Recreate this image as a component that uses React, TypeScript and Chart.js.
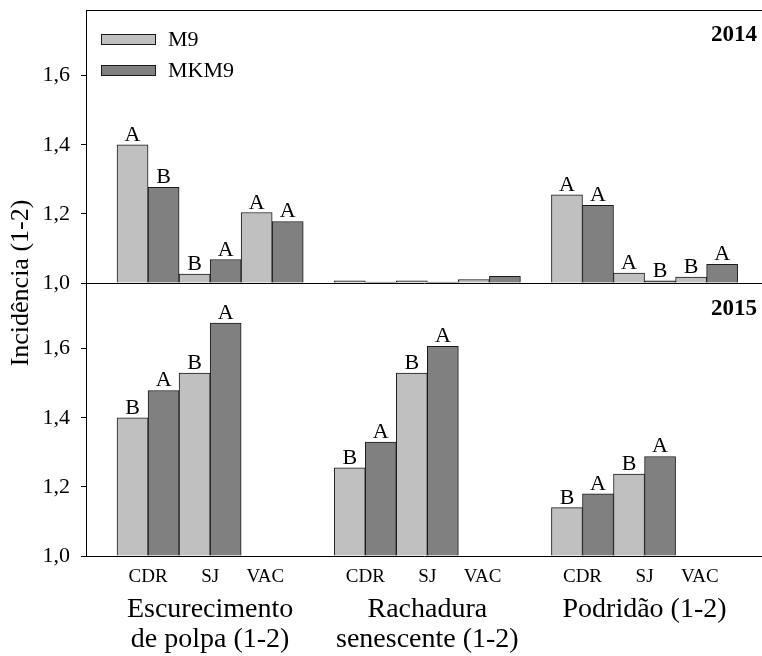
import React, { useEffect, useRef } from 'react';
import { Chart, registerables } from 'chart.js';

Chart.register(...registerables);

const FONT = '"Liberation Serif", "Times New Roman", serif';

const groups: string[][] = [
  ['Escurecimento', 'de polpa (1-2)'],
  ['Rachadura', 'senescente (1-2)'],
  ['Podridão (1-2)'],
];
const cultivars = ['CDR', 'SJ', 'VAC'];
const seriesNames = ['M9', 'MKM9'];
const seriesColors = ['#c0c0c0', '#808080'];
const years = ['2014', '2015'];
const yTicks = [1.0, 1.2, 1.4, 1.6];
const yTitle = 'Incidência (1-2)';

// order: group (Escurecimento, Rachadura, Podridão) x cultivar (CDR, SJ, VAC)
const m9_2014 = [1.40, 1.026, 1.204, 1.006, 1.006, 1.010, 1.255, 1.029, 1.017];
const mkm9_2014 = [1.277, 1.068, 1.178, 1.003, 1.003, 1.019, 1.225, 1.006, 1.054];
const m9_2015 = [1.40, 1.529, null, 1.255, 1.529, null, 1.14, 1.237, null];
const mkm9_2015 = [1.479, 1.674, null, 1.33, 1.607, null, 1.18, 1.288, null];

const letters_m9_2014 = ['A', 'B', 'A', '', '', '', 'A', 'A', 'B'];
const letters_mkm9_2014 = ['B', 'A', 'A', '', '', '', 'A', 'B', 'A'];
const letters_m9_2015 = ['B', 'B', '', 'B', 'B', '', 'B', 'B', ''];
const letters_mkm9_2015 = ['A', 'A', '', 'A', 'A', '', 'A', 'A', ''];

// slot layout on the x axis: one empty slot between groups
const slotOf = (i: number, s: number) => 1 + 7 * Math.floor(i / 3) + 2 * (i % 3) + s;
const labelShift = [0, 0, -0.22];
const X_MIN = -0.5;
const X_MAX = 21.285;

const fmt = (v: number) => v.toFixed(1).replace('.', ',');

export default function App() {
  const ref = useRef<HTMLCanvasElement | null>(null);

  useEffect(() => {
    if (!ref.current) return;

    const mk = (vals: (number | null)[], s: number, yAxisID: string, letters: string[]) => ({
      label: seriesNames[s],
      data: vals.map((v, i) => ({ x: slotOf(i, s), y: v })),
      backgroundColor: seriesColors[s],
      borderColor: '#1a1a1a',
      borderWidth: 1,
      borderSkipped: 'start',
      base: 1,
      yAxisID,
      grouped: false,
      barPercentage: 1,
      categoryPercentage: 1,
      letters,
    });

    const xTickValues: number[] = [];
    for (let i = 0; i < cultivars.length * groups.length; i++) {
      xTickValues.push(slotOf(i, 0) + 0.5 + labelShift[i % 3]);
    }
    const groupTickValues = groups.map((_, g) => slotOf(g * 3 + 1, 0) + 0.5);

    const annot = {
      id: 'annot',
      afterDatasetsDraw(chart: any) {
        const ctx = chart.ctx as CanvasRenderingContext2D;
        const ca = chart.chartArea;
        ctx.save();
        // letters above bars
        ctx.fillStyle = '#000';
        ctx.font = `22px ${FONT}`;
        ctx.textAlign = 'center';
        ctx.textBaseline = 'alphabetic';
        chart.data.datasets.forEach((ds: any, di: number) => {
          const meta = chart.getDatasetMeta(di);
          meta.data.forEach((el: any, j: number) => {
            const t = ds.letters[j];
            if (!t || ds.data[j].y == null) return;
            ctx.fillText(t, el.x, el.y - 4);
          });
        });
        // top frame line
        ctx.strokeStyle = '#000';
        ctx.lineWidth = 1;
        ctx.beginPath();
        ctx.moveTo(ca.left, Math.round(ca.top) + 0.5);
        ctx.lineTo(ca.right, Math.round(ca.top) + 0.5);
        ctx.stroke();
        // year labels
        ctx.font = `bold 23px ${FONT}`;
        ctx.textAlign = 'right';
        ctx.textBaseline = 'middle';
        ctx.fillText(years[0], ca.right - 5, chart.scales.yTop.top + 25);
        ctx.fillText(years[1], ca.right - 5, chart.scales.yBottom.top + 26);
        // legend
        ctx.font = `22px ${FONT}`;
        ctx.textAlign = 'left';
        seriesNames.forEach((n, s) => {
          const y = ca.top + 24 + s * 31;
          ctx.fillStyle = seriesColors[s];
          ctx.fillRect(101, y, 54, 10);
          ctx.strokeStyle = '#1a1a1a';
          ctx.strokeRect(101.5, y + 0.5, 54, 10);
          ctx.fillStyle = '#000';
          ctx.fillText(n, 168, y + 6);
        });
        // y title
        ctx.font = `26px ${FONT}`;
        ctx.translate(21, (ca.top + ca.bottom) / 2);
        ctx.rotate(-Math.PI / 2);
        ctx.textAlign = 'center';
        ctx.textBaseline = 'middle';
        ctx.fillText(yTitle, 0, 0);
        ctx.restore();
      },
    };

    const yCommon = (drawOnChartArea: boolean) => ({
      type: 'linear',
      position: 'left',
      stack: 'panels',
      stackWeight: 1,
      min: 1,
      max: 1.79,
      afterBuildTicks: (s: any) => {
        s.ticks = yTicks.map((v) => ({ value: v }));
      },
      afterFit: (s: any) => {
        s.width = 86;
        s.paddingTop = 0;
        s.paddingBottom = 0;
      },
      ticks: {
        callback: (v: number) => fmt(v),
        font: { family: FONT, size: 22 },
        color: '#000',
        padding: 11,
      },
      grid: {
        drawOnChartArea,
        tickLength: 5,
        tickColor: '#000',
        color: (c: any) => (c.tick && Math.abs(c.tick.value - 1) < 1e-9 ? '#000' : 'rgba(0,0,0,0)'),
      },
      border: { display: true, color: '#000', width: 1 },
    });

    const xCommon = (ticksList: number[], height: number) => ({
      type: 'linear',
      min: X_MIN,
      max: X_MAX,
      offset: false,
      position: 'bottom',
      afterBuildTicks: (s: any) => {
        s.ticks = ticksList.map((v) => ({ value: v }));
      },
      afterFit: (s: any) => {
        s.height = height;
        s.paddingLeft = 0;
        s.paddingRight = 0;
      },
    });

    const chart = new Chart(ref.current, {
      type: 'bar',
      data: {
        datasets: [
          mk(m9_2014, 0, 'yTop', letters_m9_2014),
          mk(mkm9_2014, 1, 'yTop', letters_mkm9_2014),
          mk(m9_2015, 0, 'yBottom', letters_m9_2015),
          mk(mkm9_2015, 1, 'yBottom', letters_mkm9_2015),
        ] as any,
      },
      options: {
        animation: false,
        responsive: false,
        maintainAspectRatio: false,
        layout: { padding: { top: 10, left: 0, right: 0, bottom: 0 } },
        plugins: {
          legend: { display: false },
          tooltip: { enabled: false },
        },
        scales: {
          x: {
            ...xCommon(xTickValues, 36),
            grid: { display: false, drawTicks: false, offset: false },
            border: { display: true, color: '#000', width: 1 },
            ticks: {
              autoSkip: false,
              maxRotation: 0,
              padding: 10,
              color: '#000',
              font: { family: FONT, size: 19 },
              callback: (_v: any, i: number) => cultivars[i % cultivars.length],
            },
          },
          x2: {
            ...xCommon(groupTickValues, 64),
            grid: { display: false, drawTicks: false, offset: false },
            border: { display: false },
            ticks: {
              autoSkip: false,
              maxRotation: 0,
              padding: 3,
              color: '#000',
              font: { family: FONT, size: 28, lineHeight: '30px' },
              callback: (_v: any, i: number) => groups[i],
            },
          },
          yBottom: yCommon(false),
          yTop: yCommon(true),
        } as any,
      },
      plugins: [annot],
    });

    return () => chart.destroy();
  }, []);

  return (
    <div style={{ position: 'fixed', left: 0, top: 0, width: 762, height: 656, overflow: 'hidden', background: '#fff' }}>
      <canvas ref={ref} width={762} height={656} style={{ display: 'block', width: 762, height: 656 }} />
    </div>
  );
}
